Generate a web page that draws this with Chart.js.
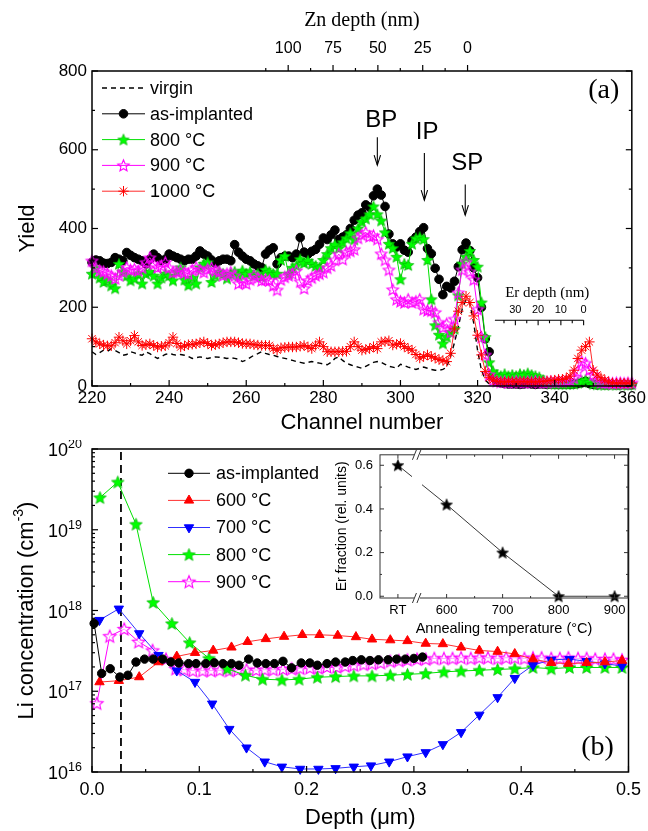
<!DOCTYPE html>
<html>
<head>
<meta charset="utf-8">
<title>RBS yield and Li depth profiles</title>
<script src="https://cdn.jsdelivr.net/npm/chart.js@4.4.1/dist/chart.umd.min.js"></script>
<style>
  html, body { margin:0; padding:0; background:#ffffff; }
  #wrap { position:relative; width:648px; height:831px; overflow:hidden; background:#fff; }
  canvas { position:absolute; display:block; }
</style>
</head>
<body>
<div id="wrap">
  <canvas id="topChart" width="648" height="440" style="left:0;top:0;width:648px;height:440px"></canvas>
  <canvas id="bottomChart" width="648" height="391" style="left:0;top:440px;width:648px;height:391px"></canvas>
  <canvas id="insetChart" width="320" height="200" style="left:320px;top:440px;width:320px;height:200px"></canvas>
</div>
<script>
// ================= Panel (a): RBS yield vs channel =================
const channels = [220,221,222,223,224,225,226,227,228,229,
230,231,232,233,234,235,236,237,238,239,
240,241,242,243,244,245,246,247,248,249,
250,251,252,253,254,255,256,257,258,259,
260,261,262,263,264,265,266,267,268,269,
270,271,272,273,274,275,276,277,278,279,
280,281,282,283,284,285,286,287,288,289,
290,291,292,293,294,295,296,297,298,299,
300,301,302,303,304,305,306,307,308,309,
310,311,312,313,314,315,316,317,318,319,
320,321,322,323,324,325,326,327,328,329,
330,331,332,333,334,335,336,337,338,339,
340,341,342,343,344,345,346,347,348,349,
350,351,352,353,354,355,356,357,358,359,
360];
const virgin = [87,80,85,91,88,95,90,85,78,80,
87,84,80,78,87,82,75,70,75,80,
83,80,78,80,78,75,70,72,74,72,
70,72,74,73,72,70,72,70,68,62,
66,72,78,82,87,83,80,78,75,72,
70,68,65,62,60,58,60,62,60,58,
56,54,60,70,74,65,58,54,50,48,
45,50,55,60,62,60,55,50,48,45,
55,52,48,45,42,45,48,45,42,40,
40,42,48,75,110,150,195,220,210,160,
90,40,15,5,3,3,3,3,3,3,
3,3,3,3,3,3,3,3,3,3,
3,3,3,3,3,3,3,3,3,3,
3,3,3,3,3,3,3,3,3,3,
3];
const asImplanted = [314,320,318,312,311,314,326,322,318,339,
332,326,322,318,310,322,335,326,318,322,
335,330,326,322,318,322,322,330,343,335,
330,320,312,318,322,322,318,359,340,330,
322,318,310,305,301,335,345,351,310,326,
330,330,326,335,377,340,335,342,347,360,
376,372,384,396,372,378,384,400,421,434,
440,460,454,483,500,485,456,386,361,353,
361,345,340,369,378,392,402,349,336,299,
271,232,253,249,266,303,346,363,344,300,
275,200,120,87,25,12,8,6,5,5,
5,4,5,6,5,4,5,5,4,5,
5,4,5,5,4,5,6,8,12,6,
4,3,4,3,3,4,3,3,4,3,
3];
const anneal800 = [285,300,275,264,270,255,248,310,290,280,
268,273,285,260,285,290,280,260,275,285,
280,268,290,301,270,256,275,260,301,310,
314,264,280,290,285,273,285,290,280,293,
285,290,280,285,277,295,290,285,285,320,
330,285,300,306,322,312,318,310,305,301,
320,335,350,359,350,365,375,388,372,400,
417,425,436,456,436,420,390,361,350,328,
271,310,307,361,375,378,373,320,220,154,
130,108,125,137,145,230,311,328,343,320,
303,212,124,60,37,28,25,30,25,28,
25,30,28,32,28,25,22,15,8,6,
5,5,5,5,5,6,8,12,15,10,
5,4,4,3,4,4,3,4,4,3,
4];
const anneal900 = [318,300,293,290,285,280,273,281,290,301,
295,297,293,300,314,326,310,301,305,314,
300,289,290,293,288,285,295,301,295,289,
297,300,293,290,281,285,289,280,260,265,
260,270,281,275,268,270,268,255,244,270,
277,281,285,293,265,248,268,275,281,285,
289,300,306,320,335,322,340,343,347,376,
384,390,380,382,373,336,320,295,245,220,
215,212,220,212,215,220,195,192,191,187,
162,149,158,137,170,237,295,315,290,270,
195,124,79,29,15,12,10,11,9,10,
12,10,9,11,10,12,10,9,10,11,
10,12,11,13,14,20,37,62,58,41,
29,12,9,8,8,7,8,8,7,8,
8];
const anneal1000 = [120,112,107,104,102,102,110,124,115,107,
115,128,112,103,105,107,103,99,101,102,
110,124,108,99,102,105,106,107,110,112,
108,103,105,107,110,112,112,112,110,108,
107,107,105,104,103,103,103,95,91,97,
98,99,99,99,101,103,99,95,103,112,
100,87,87,87,87,88,88,100,112,100,
91,93,95,100,95,112,113,115,104,106,
108,100,95,91,80,71,75,79,75,71,
67,65,62,83,145,190,212,228,212,178,
129,79,37,21,15,12,11,10,12,11,
10,11,12,10,11,10,12,11,13,14,
15,17,17,20,25,40,70,91,100,112,
40,28,21,15,10,8,7,8,7,8,
7];
const channelTicks = [220,240,260,280,300,320,340,360];
const channelMinorTicks = [230,250,270,290,310,330,350];
const yieldTicks = [0,200,400,600,800];
const yieldMinorTicks = [100,300,500,700];
const znDepthTicks = [0,25,50,75,100];
const znDepthMinorTicks = [12.5,37.5,62.5,87.5,112.5];
const erDepthTicks = [0,10,20,30];
const erDepthMinorTicks = [5,15,25,35];
// depth-scale calibration against channel number
const znZeroChannel = 317.4, znChannelsPerNm = 0.4652;
const erZeroChannel = 347.5, erChannelsPerNm = 0.59, erAxisYield = 167, erAxisMaxDepth = 39;
// peak annotations (channel / yield coordinates)
const peakMarks = [
  {label:'BP', textChannel:295.0, textYield:675, arrowChannel:294.0, arrowFrom:632, arrowTo:561},
  {label:'IP', textChannel:306.9, textYield:645, arrowChannel:306.2, arrowFrom:592, arrowTo:472},
  {label:'SP', textChannel:317.3, textYield:566, arrowChannel:316.8, arrowFrom:512, arrowTo:434}
];

// ================= Panel (b): Li concentration vs depth =================
const liDepthAsImpl = [0.002,0.009,0.017,0.026,0.0335,0.041,0.049,0.057,0.066,0.0735,
0.081,0.090,0.097,0.106,0.114,0.122,0.130,0.137,0.146,0.154,
0.162,0.170,0.178,0.186,0.195,0.203,0.210,0.219,0.227,0.236,
0.243,0.251,0.259,0.267,0.276,0.284,0.292,0.300,0.308];
const liAsImpl = [6.9e17,1.66e17,1.9e17,1.5e17,1.58e17,2.3e17,2.5e17,2.5e17,2.5e17,2.3e17,
2.24e17,2.2e17,2.2e17,2.2e17,2.25e17,2.2e17,2.2e17,2.1e17,2.5e17,2.24e17,
2.2e17,2.2e17,2.35e17,1.95e17,2.24e17,2.24e17,2.1e17,2.2e17,2.3e17,2.3e17,
2.4e17,2.45e17,2.4e17,2.45e17,2.45e17,2.5e17,2.5e17,2.55e17,2.65e17];
const liDepth600 = [0.007,0.025,0.044,0.062,0.079,0.096,0.113,0.130,0.145,0.162,
0.179,0.196,0.212,0.229,0.246,0.261,0.278,0.294,0.311,0.327,
0.344,0.361,0.378,0.394,0.411,0.428,0.444,0.461,0.478,0.494];
const li600 = [1.3e17,1.35e17,1.5e17,2.3e17,2.7e17,3.0e17,3.2e17,3.5e17,4.1e17,4.45e17,
4.75e17,5.0e17,5.0e17,4.9e17,4.7e17,4.4e17,4.3e17,4.2e17,3.9e17,3.85e17,
3.5e17,3.2e17,3.1e17,2.9e17,2.5e17,2.25e17,2.2e17,2.25e17,2.3e17,2.4e17];
const liDepth700 = [0.007,0.025,0.044,0.062,0.079,0.096,0.112,0.128,0.144,0.161,
0.177,0.194,0.211,0.227,0.244,0.260,0.277,0.294,0.311,0.327,
0.344,0.361,0.378,0.394,0.411,0.428,0.445,0.461,0.478,0.494];
const li700 = [7.6e17,1.05e18,5.2e17,2.8e17,1.8e17,1.3e17,7.0e16,3.4e16,2.0e16,1.34e16,
1.16e16,1.09e16,1.09e16,1.11e16,1.16e16,1.2e16,1.34e16,1.55e16,1.75e16,2.2e16,
3.1e16,5.1e16,8.4e16,1.45e17,2.1e17,2.45e17,2.5e17,2.35e17,2.2e17,2.05e17];
const liDepth800 = [0.0074,0.024,0.041,0.057,0.0745,0.091,0.109,0.126,0.143,0.159,
0.177,0.193,0.210,0.227,0.244,0.261,0.278,0.294,0.311,0.328,
0.344,0.361,0.378,0.394,0.411,0.428,0.445,0.461,0.478,0.494];
const li800 = [2.5e19,3.9e19,1.17e19,1.26e18,6.9e17,4.0e17,2.56e17,1.9e17,1.58e17,1.41e17,
1.38e17,1.41e17,1.49e17,1.52e17,1.55e17,1.55e17,1.58e17,1.62e17,1.66e17,1.74e17,
1.78e17,1.82e17,1.86e17,1.9e17,1.97e17,1.9e17,1.97e17,1.97e17,1.97e17,1.97e17];
const liDepth900 = [0.0045,0.0165,0.030,0.0435,0.0565,0.069,0.078,0.086,0.094,0.103,
0.111,0.119,0.128,0.136,0.144,0.153,0.161,0.169,0.178,0.186,
0.194,0.203,0.211,0.219,0.228,0.236,0.244,0.253,0.261,0.269,
0.278,0.286,0.294,0.303,0.311,0.319,0.328,0.336,0.344,0.353,
0.361,0.369,0.378,0.386,0.394,0.403,0.411,0.419,0.428,0.436,
0.444,0.453,0.461,0.469,0.478,0.486,0.494];
const li900 = [7.1e16,4.8e17,5.9e17,4.1e17,3.2e17,2.5e17,1.9e17,1.85e17,1.8e17,1.8e17,
1.8e17,1.82e17,1.8e17,1.83e17,1.85e17,1.83e17,1.85e17,1.85e17,1.88e17,1.9e17,
1.92e17,1.95e17,1.95e17,2.0e17,2.0e17,2.05e17,2.1e17,2.15e17,2.2e17,2.25e17,
2.35e17,2.4e17,2.45e17,2.5e17,2.5e17,2.55e17,2.55e17,2.55e17,2.6e17,2.55e17,
2.6e17,2.6e17,2.55e17,2.6e17,2.6e17,2.55e17,2.6e17,2.6e17,2.55e17,2.55e17,
2.6e17,2.55e17,2.55e17,2.5e17,2.5e17,2.5e17,2.45e17];
const depthTicks = [0,0.1,0.2,0.3,0.4,0.5];
const depthMinorTicks = [0.05,0.15,0.25,0.35,0.45];
const concDecades = [1e16,1e17,1e18,1e19,1e20];
const concMinorTicks = [2e16,3e16,4e16,5e16,6e16,7e16,8e16,9e16,
2e17,3e17,4e17,5e17,6e17,7e17,8e17,9e17,
2e18,3e18,4e18,5e18,6e18,7e18,8e18,9e18,
2e19,3e19,4e19,5e19,6e19,7e19,8e19,9e19];
const dashedDepth = 0.027;

// ================= Inset: Er fraction vs annealing temperature =================
const insetCategories = ['RT','600','700','800','900'];
const insetAxisPos = [513,600,700,800,900];   // RT sits left of the axis break
const erFraction = [0.60,0.42,0.20,0.0,0.0];
const erFractionTicks = [0,0.2,0.4,0.6];
const erFractionMinor = [0.1,0.3,0.5];
const tempMinorTicks = [650,750,850];
const insetBreakPos = 547;

// ================= helpers =================
const FONT = "'Liberation Sans', Arial, Helvetica, sans-serif";
const SERIF = "'Liberation Serif', 'Times New Roman', serif";
Chart.defaults.font.family = FONT;
Chart.defaults.color = '#000';

function makeStar(R, fill, stroke, lw, inner) {
  const size = Math.ceil(2 * R + 2 * lw + 2);
  const c = document.createElement('canvas');
  c.width = size; c.height = size;
  const g = c.getContext('2d');
  const cx = size / 2, cy = size / 2 + R * 0.08;
  g.beginPath();
  for (let i = 0; i < 10; i++) {
    const r = (i % 2 === 0) ? R : R * inner;
    const ang = -Math.PI / 2 + i * Math.PI / 5;
    g.lineTo(cx + r * Math.cos(ang), cy + r * Math.sin(ang));
  }
  g.closePath();
  if (fill) { g.fillStyle = fill; g.fill(); }
  if (stroke) { g.strokeStyle = stroke; g.lineWidth = lw; g.lineJoin = 'miter'; g.stroke(); }
  return c;
}
const greenStarA = makeStar(6.0, '#00ff00', '#00b000', 0.7, 0.45);
const pinkStarA  = makeStar(6.0, null, '#ff00ff', 1.1, 0.45);
const greenStarB = makeStar(6.6, '#00ff00', '#00b000', 0.7, 0.45);
const pinkStarB  = makeStar(6.6, 'rgba(255,255,255,0.6)', '#ff00ff', 1.1, 0.45);
const blackStar  = makeStar(6.2, '#000000', '#000000', 0.6, 0.45);

function pairs(xs, ys) {
  const n = Math.min(xs.length, ys.length), out = [];
  for (let i = 0; i < n; i++) out.push({x: xs[i], y: ys[i]});
  return out;
}

function drawMarker(ctx, ds, x, y) {
  const ps = ds.pointStyle, r = ds.pointRadius || 0;
  if (!r) return;
  if (ps && typeof ps === 'object') { ctx.drawImage(ps, x - ps.width / 2, y - ps.height / 2); return; }
  ctx.save();
  ctx.fillStyle = ds.pointBackgroundColor; ctx.strokeStyle = ds.pointBorderColor;
  ctx.lineWidth = ds.pointBorderWidth || 1;
  ctx.translate(x, y); ctx.rotate((ds.pointRotation || 0) * Math.PI / 180);
  ctx.beginPath();
  if (ps === 'circle') { ctx.arc(0, 0, r, 0, Math.PI * 2); ctx.fill(); ctx.stroke(); }
  else if (ps === 'triangle') {
    for (let k = 0; k < 3; k++) { const a = k * 2 * Math.PI / 3; ctx.lineTo(Math.sin(a) * r, -Math.cos(a) * r); }
    ctx.closePath(); ctx.fill(); ctx.stroke();
  } else if (ps === 'star') {
    for (let k = 0; k < 4; k++) { const a = k * Math.PI / 4; ctx.moveTo(Math.cos(a) * r, Math.sin(a) * r); ctx.lineTo(-Math.cos(a) * r, -Math.sin(a) * r); }
    ctx.stroke();
  }
  ctx.restore();
}

// frame + inward/outward tick marks
const frameTicks = {
  id: 'frameTicks',
  afterDatasetsDraw(chart, args, o) {
    if (!o || !o.items) return;
    const ctx = chart.ctx, a = chart.chartArea;
    ctx.save();
    ctx.strokeStyle = o.color || '#000';
    ctx.lineWidth = o.frameWidth || 1.5;
    ctx.strokeRect(a.left, a.top, a.right - a.left, a.bottom - a.top);
    ctx.lineWidth = o.tickWidth || 1.2;
    for (const it of o.items) {
      const s = chart.scales[it.scale];
      const groups = [[it.major || [], it.majorLen], [it.minor || [], it.minorLen]];
      for (const [vals, len] of groups) {
        for (const v of vals) {
          const p = s.getPixelForValue(v);
          const L = len * (it.dir || 1);
          ctx.beginPath();
          if (it.edge === 'bottom') { ctx.moveTo(p, a.bottom); ctx.lineTo(p, a.bottom - L); }
          else if (it.edge === 'top') { ctx.moveTo(p, a.top); ctx.lineTo(p, a.top + L); }
          else if (it.edge === 'left') { ctx.moveTo(a.left, p); ctx.lineTo(a.left + L, p); }
          else { ctx.moveTo(a.right, p); ctx.lineTo(a.right - L, p); }
          ctx.stroke();
        }
      }
    }
    ctx.restore();
  }
};

// legend drawn inside the plot with line + marker samples
const panelLegend = {
  id: 'panelLegend',
  afterDraw(chart, args, o) {
    if (!o || !o.items) return;
    const ctx = chart.ctx, a = chart.chartArea;
    ctx.save();
    ctx.font = o.fontSize + 'px ' + FONT;
    ctx.textBaseline = 'middle'; ctx.textAlign = 'left'; ctx.fillStyle = '#000';
    o.items.forEach((idx, k) => {
      const ds = chart.data.datasets[idx];
      const y = a.top + o.y0 + k * o.dy;
      const x1 = a.left + o.x0, x2 = x1 + o.lineLen;
      ctx.save();
      ctx.strokeStyle = ds.borderColor; ctx.lineWidth = ds.legendLineWidth || ds.borderWidth;
      ctx.setLineDash(ds.borderDash || []);
      ctx.beginPath(); ctx.moveTo(x1, y); ctx.lineTo(x2, y); ctx.stroke();
      ctx.restore();
      drawMarker(ctx, ds, (x1 + x2) / 2, y);
      ctx.fillText(ds.label, x2 + o.gap, y + 1);
    });
    ctx.restore();
  }
};

// annotations of panel (a)
const topAnnot = {
  id: 'topAnnot',
  afterDraw(chart) {
    const ctx = chart.ctx, xs = chart.scales.x, ys = chart.scales.y, a = chart.chartArea;
    ctx.save();
    ctx.fillStyle = '#000'; ctx.strokeStyle = '#000';
    ctx.font = '24px ' + FONT; ctx.textAlign = 'center'; ctx.textBaseline = 'middle';
    for (const p of peakMarks) {
      ctx.fillText(p.label, xs.getPixelForValue(p.textChannel), ys.getPixelForValue(p.textYield));
      const x = xs.getPixelForValue(p.arrowChannel);
      const y1 = ys.getPixelForValue(p.arrowFrom), y2 = ys.getPixelForValue(p.arrowTo);
      ctx.lineWidth = 1.1;
      ctx.beginPath(); ctx.moveTo(x, y1); ctx.lineTo(x, y2); ctx.stroke();
      ctx.beginPath(); ctx.moveTo(x - 3.2, y2 - 10); ctx.lineTo(x, y2); ctx.lineTo(x + 3.2, y2 - 10); ctx.stroke();
    }
    // (a)
    ctx.font = '28px ' + SERIF;
    ctx.fillText('(a)', a.right - 28, a.top + 20);
    // Er depth inset axis
    const erPx = d => xs.getPixelForValue(erZeroChannel - d * erChannelsPerNm);
    const yl = ys.getPixelForValue(erAxisYield);
    ctx.lineWidth = 1.1;
    ctx.beginPath(); ctx.moveTo(erPx(erAxisMaxDepth), yl); ctx.lineTo(erPx(0), yl); ctx.stroke();
    for (const d of erDepthTicks) { ctx.beginPath(); ctx.moveTo(erPx(d), yl); ctx.lineTo(erPx(d), yl + 5); ctx.stroke(); }
    for (const d of erDepthMinorTicks) { ctx.beginPath(); ctx.moveTo(erPx(d), yl); ctx.lineTo(erPx(d), yl + 3); ctx.stroke(); }
    ctx.font = '11px ' + FONT;
    for (const d of erDepthTicks) ctx.fillText(String(d), erPx(d), yl - 10);
    ctx.font = '15px ' + SERIF;
    ctx.fillText('Er depth (nm)', erPx(16), ys.getPixelForValue(235));
    ctx.restore();
  }
};

// annotations of panel (b): log labels with superscripts, y title, (b)
function drawSupText(ctx, parts, cx, cy, rotate) {
  ctx.save();
  ctx.translate(cx, cy);
  if (rotate) ctx.rotate(-Math.PI / 2);
  let total = 0;
  for (const p of parts) { ctx.font = p.size + 'px ' + FONT; total += ctx.measureText(p.t).width; }
  let x = -total / 2;
  ctx.textAlign = 'left'; ctx.textBaseline = 'middle'; ctx.fillStyle = '#000';
  for (const p of parts) { ctx.font = p.size + 'px ' + FONT; ctx.fillText(p.t, x, p.dy || 0); x += ctx.measureText(p.t).width; }
  ctx.restore();
}
const bottomAnnot = {
  id: 'bottomAnnot',
  afterDraw(chart) {
    const ctx = chart.ctx, ys = chart.scales.y, a = chart.chartArea;
    ctx.save();
    ctx.fillStyle = '#000'; ctx.textBaseline = 'alphabetic'; ctx.textAlign = 'right';
    for (const v of concDecades) {
      const y = ys.getPixelForValue(v);
      const exp = String(Math.round(Math.log10(v)));
      ctx.font = '12.5px ' + FONT;
      const we = ctx.measureText(exp).width;
      const xr = a.left - 10;
      ctx.fillText(exp, xr, y - 1);
      ctx.font = '18px ' + FONT;
      ctx.fillText('10', xr - we, y + 7);
    }
    ctx.restore();
    drawSupText(ctx, [
      {t: 'Li concentration (cm', size: 22},
      {t: '-3', size: 14, dy: -8},
      {t: ')', size: 22}
    ], 27, (a.top + a.bottom) / 2, true);
    ctx.save();
    ctx.font = '28px ' + SERIF; ctx.textAlign = 'center'; ctx.textBaseline = 'middle'; ctx.fillStyle = '#000';
    ctx.fillText('(b)', a.right - 31, a.bottom - 24);
    ctx.restore();
  }
};

// break marks of the inset temperature axis
const insetBreak = {
  id: 'insetBreak',
  afterDraw(chart, args, o) {
    const ctx = chart.ctx, a = chart.chartArea, xs = chart.scales.x;
    const xb = xs.getPixelForValue(o.at);
    const meta = chart.getDatasetMeta(0);
    const p0 = meta.data[0], p1 = meta.data[1];
    if (p0 && p1) {
      const t = (xb - p0.x) / (p1.x - p0.x);
      const yb = p0.y + t * (p1.y - p0.y);
      ctx.clearRect(xb - 5, yb - 5, 10, 10);
    }
    ctx.save(); ctx.strokeStyle = '#333'; ctx.lineWidth = 1;
    for (const yEdge of [a.top, a.bottom]) {
      ctx.clearRect(xb - 3, yEdge - 2, 6, 4);
      for (const dx of [-2.5, 2.0]) {
        ctx.beginPath(); ctx.moveTo(xb + dx - 2, yEdge + 5); ctx.lineTo(xb + dx + 2, yEdge - 5); ctx.stroke();
      }
    }
    ctx.restore();
  }
};

const noGrid = {display: false, drawTicks: false};
const noBorder = {display: false};

// ================= Chart (a) =================
new Chart(document.getElementById('topChart'), {
  type: 'line',
  data: {
    datasets: [
      {label: 'virgin', data: pairs(channels, virgin), borderColor: '#000', borderWidth: 1.4, borderDash: [5, 4],
       legendLineWidth: 1.5, pointRadius: 0, order: 5},
      {label: 'as-implanted', data: pairs(channels, asImplanted), borderColor: '#000', borderWidth: 1,
       pointStyle: 'circle', pointRadius: 4.3, pointBackgroundColor: '#000', pointBorderColor: '#000', pointBorderWidth: 1, order: 4},
      {label: '800 °C', data: pairs(channels, anneal800), borderColor: '#00e000', borderWidth: 1,
       pointStyle: greenStarA, pointRadius: 6, order: 3},
      {label: '900 °C', data: pairs(channels, anneal900), borderColor: '#ff00ff', borderWidth: 1,
       pointStyle: pinkStarA, pointRadius: 6, order: 2},
      {label: '1000 °C', data: pairs(channels, anneal1000), borderColor: '#ff2a2a', borderWidth: 1,
       pointStyle: 'star', pointRadius: 5.2, pointBackgroundColor: '#ff0000', pointBorderColor: '#ff0000', pointBorderWidth: 1, order: 1}
    ]
  },
  options: {
    responsive: false, animation: false, events: [], devicePixelRatio: 1,
    layout: {padding: {left: 0, top: 0, right: 15, bottom: 0}},
    elements: {line: {tension: 0}},
    datasets: {line: {clip: 8}},
    plugins: {
      legend: {display: false}, tooltip: {enabled: false},
      frameTicks: {color: '#000', frameWidth: 1.5, tickWidth: 1.2, items: [
        {scale: 'x', edge: 'bottom', major: channelTicks, majorLen: 6, minor: channelMinorTicks, minorLen: 3},
        {scale: 'x2', edge: 'top', major: znDepthTicks, majorLen: 6, minor: znDepthMinorTicks, minorLen: 3, dir: -1},
        {scale: 'y', edge: 'left', major: yieldTicks, majorLen: 6, minor: yieldMinorTicks, minorLen: 3},
        {scale: 'y', edge: 'right', major: yieldTicks, majorLen: 6, minor: yieldMinorTicks, minorLen: 3}
      ]},
      panelLegend: {items: [0, 1, 2, 3, 4], x0: 10, y0: 17, dy: 25.8, lineLen: 43, gap: 5, fontSize: 18}
    },
    scales: {
      x: {
        type: 'linear', position: 'bottom', min: 220, max: 360,
        afterBuildTicks: s => { s.ticks = channelTicks.map(v => ({value: v})); },
        ticks: {font: {size: 17}, padding: 2, maxRotation: 0, autoSkip: false, color: '#000'},
        grid: noGrid, border: noBorder,
        title: {display: true, text: 'Channel number', font: {size: 22}, color: '#000', padding: {top: 0, bottom: 4}},
        afterFit: s => { s.height = 54; }
      },
      x2: {
        type: 'linear', position: 'top', reverse: true,
        min: (znZeroChannel - 360) / znChannelsPerNm, max: (znZeroChannel - 220) / znChannelsPerNm,
        afterBuildTicks: s => { s.ticks = znDepthTicks.map(v => ({value: v})); },
        ticks: {font: {size: 16}, padding: 13, maxRotation: 0, autoSkip: false, color: '#000'},
        grid: noGrid, border: noBorder,
        title: {display: true, text: 'Zn depth (nm)', font: {size: 20, family: SERIF}, color: '#000', padding: {top: 9, bottom: 0}},
        afterFit: s => { s.height = 71; }
      },
      y: {
        type: 'linear', position: 'left', min: 0, max: 800,
        afterBuildTicks: s => { s.ticks = yieldTicks.map(v => ({value: v})); },
        ticks: {font: {size: 17}, padding: 5, color: '#000'},
        grid: noGrid, border: noBorder,
        title: {display: true, text: 'Yield', font: {size: 22}, color: '#000', padding: {top: 15, bottom: 0}},
        afterFit: s => { s.width = 92; }
      }
    }
  },
  plugins: [frameTicks, panelLegend, topAnnot]
});

// ================= Chart (b) =================
new Chart(document.getElementById('bottomChart'), {
  type: 'line',
  data: {
    datasets: [
      {label: 'as-implanted', data: pairs(liDepthAsImpl, liAsImpl), borderColor: '#000', borderWidth: 1,
       pointStyle: 'circle', pointRadius: 4.2, pointBackgroundColor: '#000', pointBorderColor: '#000', pointBorderWidth: 1, order: 1},
      {label: '600 °C', data: pairs(liDepth600, li600), borderColor: '#ff3030', borderWidth: 1,
       pointStyle: 'triangle', pointRadius: 5.4, pointBackgroundColor: '#ff0000', pointBorderColor: '#ff0000', pointBorderWidth: 1, order: 2},
      {label: '700 °C', data: pairs(liDepth700, li700), borderColor: '#3030ff', borderWidth: 1,
       pointStyle: 'triangle', pointRotation: 180, pointRadius: 5.4, pointBackgroundColor: '#0000ff', pointBorderColor: '#0000ff', pointBorderWidth: 1, order: 3},
      {label: '800 °C', data: pairs(liDepth800, li800), borderColor: '#00e000', borderWidth: 1,
       pointStyle: greenStarB, pointRadius: 6.6, order: 4},
      {label: '900 °C', data: pairs(liDepth900, li900), borderColor: '#ff00ff', borderWidth: 1,
       pointStyle: pinkStarB, pointRadius: 6.6, order: 5},
      {label: 'surface marker', data: [{x: dashedDepth, y: concDecades[0]}, {x: dashedDepth, y: concDecades[concDecades.length - 1]}],
       borderColor: '#000', borderWidth: 1.8, borderDash: [8, 5], pointRadius: 0, order: 6}
    ]
  },
  options: {
    responsive: false, animation: false, events: [], devicePixelRatio: 1,
    layout: {padding: {left: 0, top: 9, right: 14, bottom: 0}},
    elements: {line: {tension: 0}},
    datasets: {line: {clip: 8}},
    plugins: {
      legend: {display: false}, tooltip: {enabled: false},
      frameTicks: {color: '#000', frameWidth: 1.5, tickWidth: 1.2, items: [
        {scale: 'x', edge: 'bottom', major: depthTicks, majorLen: 6, minor: depthMinorTicks, minorLen: 3},
        {scale: 'y', edge: 'left', major: concDecades, majorLen: 6, minor: concMinorTicks, minorLen: 3}
      ]},
      panelLegend: {items: [0, 1, 2, 3, 4], x0: 76, y0: 24.3, dy: 27.1, lineLen: 42, gap: 6, fontSize: 18}
    },
    scales: {
      x: {
        type: 'linear', position: 'bottom', min: 0, max: 0.5,
        afterBuildTicks: s => { s.ticks = depthTicks.map(v => ({value: v})); },
        ticks: {font: {size: 18}, padding: 7, maxRotation: 0, autoSkip: false, color: '#000', callback: v => Number(v).toFixed(1)},
        grid: noGrid, border: noBorder,
        title: {display: true, text: 'Depth (μm)', font: {size: 22}, color: '#000', padding: {top: 0, bottom: 0}},
        afterFit: s => { s.height = 59; }
      },
      y: {
        type: 'logarithmic', position: 'left', min: 1e16, max: 1e20,
        ticks: {display: false},
        grid: noGrid, border: noBorder,
        title: {display: false},
        afterFit: s => { s.width = 92; }
      }
    }
  },
  plugins: [frameTicks, panelLegend, bottomAnnot]
});

// ================= Inset =================
new Chart(document.getElementById('insetChart'), {
  type: 'line',
  data: {
    datasets: [
      {label: 'Er fraction', data: pairs(insetAxisPos, erFraction), borderColor: '#222', borderWidth: 0.9,
       pointStyle: blackStar, pointRadius: 6.2}
    ]
  },
  options: {
    responsive: false, animation: false, events: [], devicePixelRatio: 1,
    layout: {padding: {left: 0, top: 13, right: 12, bottom: 0}},
    datasets: {line: {clip: 8}},
    plugins: {
      legend: {display: false}, tooltip: {enabled: false},
      frameTicks: {color: '#333', frameWidth: 1, tickWidth: 1, items: [
        {scale: 'x', edge: 'bottom', major: insetAxisPos, majorLen: 4, minor: tempMinorTicks, minorLen: 2},
        {scale: 'x', edge: 'top', major: insetAxisPos, majorLen: 4, minor: tempMinorTicks, minorLen: 2},
        {scale: 'y', edge: 'left', major: erFractionTicks, majorLen: 4, minor: erFractionMinor, minorLen: 2},
        {scale: 'y', edge: 'right', major: erFractionTicks, majorLen: 4, minor: erFractionMinor, minorLen: 2}
      ]},
      insetBreak: {at: insetBreakPos}
    },
    scales: {
      x: {
        type: 'linear', position: 'bottom', min: 481, max: 924,
        afterBuildTicks: s => { s.ticks = insetAxisPos.map(v => ({value: v})); },
        ticks: {font: {size: 13}, padding: 5, maxRotation: 0, autoSkip: false, color: '#000',
                callback: v => { const i = insetAxisPos.indexOf(v); return i >= 0 ? insetCategories[i] : ''; }},
        grid: noGrid, border: noBorder,
        title: {display: true, text: 'Annealing temperature (°C)', font: {size: 14.5}, color: '#000', padding: {top: 0, bottom: 2.3}},
        afterFit: s => { s.height = 42; }
      },
      y: {
        type: 'linear', position: 'left', min: -0.008, max: 0.648,
        afterBuildTicks: s => { s.ticks = erFractionTicks.map(v => ({value: v})); },
        ticks: {font: {size: 13}, padding: 7, color: '#000', callback: v => Number(v).toFixed(1)},
        grid: noGrid, border: noBorder,
        title: {display: true, text: 'Er fraction (rel. units)', font: {size: 14}, color: '#000', padding: {top: 13.6, bottom: 0}},
        afterFit: s => { s.width = 60; }
      }
    }
  },
  plugins: [frameTicks, insetBreak]
});
</script>
</body>
</html>
